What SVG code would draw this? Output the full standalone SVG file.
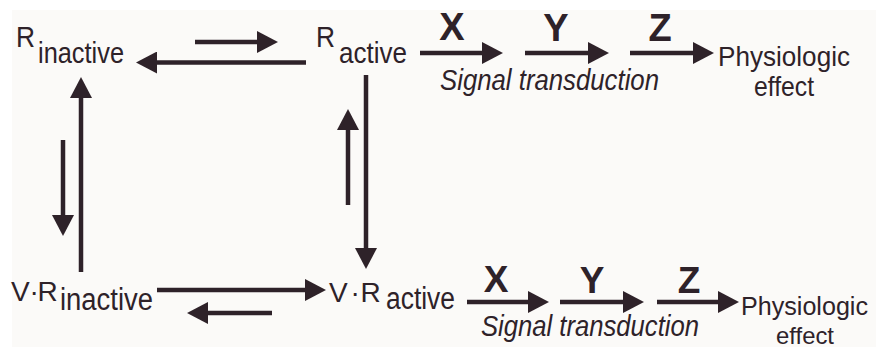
<svg xmlns="http://www.w3.org/2000/svg" width="876" height="349" viewBox="0 0 876 349">
<style>
.t{font-family:"Liberation Sans",Arial,sans-serif;fill:#2e2229}
.b{font-weight:bold;text-anchor:middle}
.i{font-style:italic}
.c{stroke:#2e2229;stroke-width:4.5;fill:none;marker-end:url(#ah)}
</style>
<defs>
<marker id="ah" markerUnits="userSpaceOnUse" markerWidth="21" markerHeight="22" refX="5" refY="11" orient="auto" viewBox="0 0 21 22">
<path d="M0,0 L21,11 L0,22 Z" fill="#2e2229"/>
</marker>
</defs>
<rect x="0" y="0" width="876" height="349" fill="#ffffff"/>
<rect x="12" y="10" width="864" height="337" fill="#fbfaf8"/>

<g id="R_inactive">
<text class="t" x="16" y="47" font-size="29" textLength="19" lengthAdjust="spacingAndGlyphs">R</text>
<text class="t" x="38" y="63" font-size="30" textLength="86" lengthAdjust="spacingAndGlyphs">inactive</text>
</g>
<g id="R_active">
<text class="t" x="316" y="47" font-size="29" textLength="19" lengthAdjust="spacingAndGlyphs">R</text>
<text class="t" x="339" y="63" font-size="30" textLength="68" lengthAdjust="spacingAndGlyphs">active</text>
</g>
<g id="VR_inactive">
<text class="t" x="11 29.5 37.5" y="301" font-size="28">V·R</text>
<text class="t" x="60" y="310" font-size="31" textLength="93" lengthAdjust="spacingAndGlyphs">inactive</text>
</g>
<g id="VR_active">
<text class="t" x="329 350.5 360.5" y="302" font-size="28">V·R</text>
<text class="t" x="386" y="309" font-size="31" textLength="69" lengthAdjust="spacingAndGlyphs">active</text>
</g>
<g id="top_effect">
<text class="t" x="718" y="66" font-size="28" textLength="132" lengthAdjust="spacingAndGlyphs">Physiologic</text>
<text class="t" x="784" y="96" font-size="28" text-anchor="middle" textLength="60" lengthAdjust="spacingAndGlyphs">effect</text>
</g>
<g id="bottom_effect">
<text class="t" x="741" y="315" font-size="26" textLength="127" lengthAdjust="spacingAndGlyphs">Physiologic</text>
<text class="t" x="805" y="343.5" font-size="24" text-anchor="middle" textLength="58" lengthAdjust="spacingAndGlyphs">effect</text>
</g>
<g id="labels">
<text class="t b" x="452" y="40" font-size="38">X</text>
<text class="t b" x="556" y="41" font-size="38">Y</text>
<text class="t b" x="660" y="41" font-size="38">Z</text>
<text class="t i" x="440" y="90" font-size="30" textLength="219" lengthAdjust="spacingAndGlyphs">Signal transduction</text>
<text class="t b" x="496" y="292" font-size="37">X</text>
<text class="t b" x="592" y="293" font-size="37">Y</text>
<text class="t b" x="689" y="293" font-size="37">Z</text>
<text class="t i" x="481" y="336" font-size="30" textLength="218" lengthAdjust="spacingAndGlyphs">Signal transduction</text>
</g>
<g id="connectors">
<path class="c" d="M306,62.5 L152,62.5"/>
<path class="c" d="M195,42 L262,42"/>
<path class="c" d="M420,53 L487,53"/>
<path class="c" d="M525,53 L593,53"/>
<path class="c" d="M630,53 L698,53"/>
<path class="c" d="M81,272 L81,93"/>
<path class="c" d="M63,140 L63,220"/>
<path class="c" d="M366,75 L366,253"/>
<path class="c" d="M348,205 L348,125"/>
<path class="c" d="M157,290 L310,290"/>
<path class="c" d="M272,313 L203,313"/>
<path class="c" d="M467,302 L533,302"/>
<path class="c" d="M560,302 L628,302"/>
<path class="c" d="M657,302 L723,302"/>
</g>
</svg>
